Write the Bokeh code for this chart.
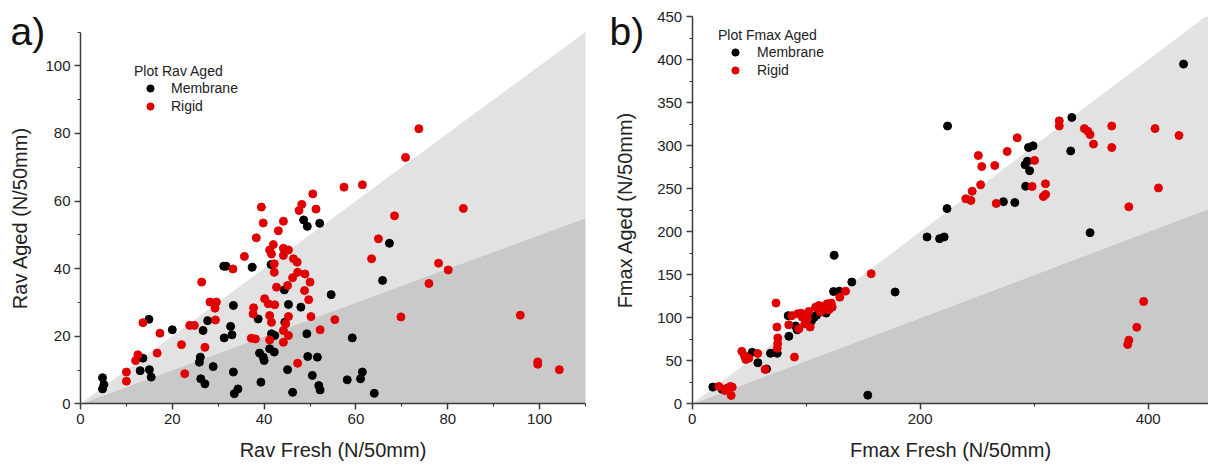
from bokeh.plotting import figure
from bokeh.models import FixedTicker, Legend, LegendItem, Label, Range1d
from bokeh.layouts import row
from bokeh.embed import file_html
from bokeh.resources import INLINE

# ---------------- data: panel a (Rav) ----------------
rav_fresh_membrane = [4.8, 5.1, 4.8, 13.0, 13.6, 14.9, 15.0, 15.4, 20.0, 26.1,
                      25.9, 26.2, 27.1, 26.7, 27.7, 28.9, 31.2, 31.7, 31.3, 32.7,
                      33.0, 33.3, 33.3, 33.5, 34.3, 48.6, 49.4, 52.1, 37.4, 41.5,
                      44.4, 54.6, 45.3, 48.0, 65.8, 67.3, 38.7, 44.5, 41.6, 42.3,
                      49.3, 59.2, 39.0, 39.8, 40.0, 41.2, 42.2, 49.5, 51.6, 45.1,
                      50.5, 58.1, 61.4, 61.0, 39.3, 51.9, 52.2, 46.2, 64.0]
rav_aged_membrane = [7.7, 5.7, 4.4, 9.8, 13.5, 25.0, 10.1, 7.9, 21.9, 13.8,
                     12.3, 7.4, 5.9, 21.7, 24.6, 11.0, 40.7, 40.7, 19.5, 22.9,
                     20.4, 29.1, 9.4, 3.0, 4.4, 54.4, 52.5, 53.4, 40.4, 41.2,
                     33.7, 32.3, 29.4, 28.6, 36.5, 47.5, 25.1, 24.1, 20.7, 20.2,
                     20.7, 19.5, 15.0, 13.8, 12.8, 16.3, 15.3, 14.0, 13.8, 10.1,
                     8.4, 7.1, 9.4, 7.4, 6.4, 5.4, 4.1, 3.4, 3.1]
rav_fresh_rigid = [10.0, 10.0, 12.0, 12.5, 13.6, 16.7, 17.3, 22.0, 22.7, 23.8,
                   24.8, 26.4, 27.1, 28.2, 29.6, 29.3, 29.4, 33.2, 35.7, 57.4,
                   61.4, 50.6, 39.4, 48.2, 47.6, 51.3, 39.8, 44.2, 43.1, 38.3,
                   42.0, 41.2, 41.6, 44.2, 45.3, 44.2, 46.4, 47.2, 42.2, 42.2,
                   47.3, 48.9, 46.2, 50.0, 42.7, 45.1, 48.8, 40.1, 49.7, 40.9,
                   42.3, 37.7, 64.9, 63.4, 37.6, 41.2, 41.6, 45.3, 50.2, 55.4,
                   44.7, 44.2, 45.3, 52.2, 37.2, 38.1, 41.2, 44.2, 47.3, 69.8,
                   75.9, 78.0, 80.1, 95.8, 99.6, 99.6, 104.3, 73.7, 70.8, 68.4,
                   83.4]
rav_aged_rigid = [9.4, 6.7, 12.8, 14.5, 24.0, 15.0, 20.9, 17.5, 8.9, 23.2,
                  23.2, 36.0, 16.7, 30.1, 30.1, 28.3, 24.8, 39.9, 43.6, 64.1,
                  64.8, 62.1, 58.2, 59.0, 57.2, 57.6, 53.5, 54.0, 51.2, 49.1,
                  47.1, 45.5, 44.3, 46.0, 45.5, 43.9, 42.9, 41.9, 41.4, 38.9,
                  38.9, 38.4, 37.3, 36.0, 34.5, 35.0, 33.5, 31.1, 30.8, 29.6,
                  29.3, 28.4, 48.8, 42.9, 26.6, 26.1, 24.1, 25.8, 25.8, 24.9,
                  23.7, 21.7, 20.2, 21.9, 19.4, 19.2, 18.9, 18.2, 12.0, 25.7,
                  35.6, 41.6, 39.6, 26.2, 12.4, 11.7, 10.1, 81.4, 72.9, 55.6,
                  57.8]

# ---------------- data: panel b (Fmax) ----------------
fmax_fresh_membrane = [18.1, 26.3, 52.6, 57.6, 65.2, 68.7, 74.6, 84.2, 84.8, 90.6,
                       92.1, 104.5, 107.0, 109.1, 117.5, 124.5, 124.0, 129.0, 140.0, 154.0,
                       178.0, 206.0, 217.0, 221.0, 223.5, 224.0, 273.0, 283.0, 292.5, 292.0,
                       294.0, 296.0, 295.0, 299.0, 333.0, 332.0, 349.0, 431.0]
fmax_aged_membrane = [19.4, 16.8, 59.8, 47.7, 40.5, 58.7, 58.7, 102.5, 78.5, 90.5,
                      86.0, 96.0, 100.5, 103.0, 105.5, 172.8, 130.5, 131.0, 141.6, 10.0,
                      130.0, 194.0, 192.0, 194.0, 227.0, 323.0, 235.0, 234.0, 253.0, 278.0,
                      282.0, 271.0, 298.0, 300.0, 333.0, 294.0, 199.0, 395.0]
fmax_fresh_rigid = [23.4, 28.7, 30.7, 33.6, 35.1, 34.2, 43.5, 45.8, 47.0, 49.7,
                    57.5, 64.0, 73.5, 74.3, 75.1, 75.0, 74.6, 89.7, 84.7, 87.5,
                    92.5, 95.5, 96.5, 93.6, 98.8, 101.0, 103.5, 102.3, 108.2, 111.1,
                    114.0, 118.4, 121.9, 122.8, 119.9, 112.6, 129.5, 134.5, 157.0, 240.0,
                    244.5, 245.6, 251.0, 254.0, 265.4, 253.0, 266.7, 276.3, 285.1, 300.3,
                    298.2, 309.9, 308.0, 310.0, 322.0, 322.0, 344.0, 347.0, 349.0, 352.0,
                    368.0, 368.0, 406.0, 427.0, 409.0, 383.0, 382.0, 383.0, 390.0, 396.0]
fmax_aged_rigid = [20.2, 15.5, 18.2, 20.2, 19.4, 9.7, 61.0, 56.0, 51.5, 53.0,
                   58.5, 40.0, 117.2, 89.2, 76.6, 70.0, 64.5, 54.3, 91.8, 102.5,
                   104.7, 105.4, 100.8, 87.2, 93.0, 98.8, 89.2, 107.4, 112.4, 114.3,
                   113.2, 116.3, 117.1, 112.4, 109.3, 106.6, 124.0, 131.0, 151.3, 238.4,
                   236.4, 247.2, 288.7, 275.9, 277.1, 254.7, 233.0, 293.4, 309.3, 283.0,
                   252.7, 255.8, 241.0, 243.5, 329.0, 323.0, 320.0, 317.0, 313.0, 302.0,
                   323.0, 298.0, 320.0, 312.0, 251.0, 229.0, 69.0, 74.0, 89.0, 119.0]

# ticks
rav_ticks = [0, 20, 40, 60, 80, 100]
rav_minor = [10, 30, 50, 70, 90, 110]
fmax_x_ticks = [0, 200, 400]
fmax_x_minor = [100, 300]
fmax_y_ticks = [0, 50, 100, 150, 200, 250, 300, 350, 400, 450]
fmax_y_minor = [25, 75, 125, 175, 225, 275, 325, 375, 425]

# axis extents
rav_max = 110
fmax_y_max = 450

# reference ratio lines (aged / fresh) bounding the shaded zones
UPPER_RATIO = 1.0
LOWER_RATIO = 0.5

FONT = "Liberation Sans"
LIGHT = "#e2e2e2"
DARK = "#c9c9c9"
RED = "#e00000"
BLACK = "#000000"
AXIS = "#3c3c3c"
TEXT = "#222222"
H = 468


def make_panel(width, xr, yr, xbounds, ybounds, xt, xm, yt, ym, xlabel, ylabel, ylabel_standoff):
    p = figure(width=width, height=H, x_range=Range1d(*xr), y_range=Range1d(*yr),
               output_backend="svg", toolbar_location=None, title=None,
               min_border=0, min_border_left=0, min_border_right=0,
               min_border_top=0, min_border_bottom=0)
    p.xgrid.visible = False
    p.ygrid.visible = False
    p.outline_line_color = None
    p.xaxis.fixed_location = 0
    p.yaxis.fixed_location = 0
    p.xaxis.bounds = xbounds
    p.yaxis.bounds = ybounds
    p.xaxis.ticker = FixedTicker(ticks=xt, minor_ticks=xm)
    p.yaxis.ticker = FixedTicker(ticks=yt, minor_ticks=ym)
    p.xaxis.axis_label = xlabel
    p.yaxis.axis_label = ylabel
    for ax in (p.xaxis[0], p.yaxis[0]):
        ax.axis_line_color = AXIS
        ax.axis_line_width = 1.5
        ax.major_tick_line_color = AXIS
        ax.major_tick_line_width = 1.5
        ax.major_tick_out = 6
        ax.major_tick_in = 0
        ax.minor_tick_line_color = AXIS
        ax.minor_tick_line_width = 1.2
        ax.minor_tick_out = 3
        ax.minor_tick_in = 0
        ax.major_label_text_font = FONT
        ax.major_label_text_font_size = "15px"
        ax.major_label_text_color = TEXT
        ax.major_label_standoff = 4
        ax.axis_label_text_font = FONT
        ax.axis_label_text_font_size = "20px"
        ax.axis_label_text_font_style = "normal"
        ax.axis_label_text_color = TEXT
    p.xaxis.axis_label_standoff = 12
    p.yaxis.axis_label_standoff = ylabel_standoff
    return p


def shade(p, xs, lower, upper):
    p.varea(x=xs, y1=[0] * len(xs), y2=lower, fill_color=DARK)
    p.varea(x=xs, y1=lower, y2=upper, fill_color=LIGHT)


def add_points(p, xb, yb, xr, yr, title, loc, gw):
    rb = p.scatter(xb, yb, size=8, fill_color=BLACK, line_color=BLACK)
    rr = p.scatter(xr, yr, size=8, fill_color=RED, line_color=RED)
    leg = Legend(items=[LegendItem(label="Membrane", renderers=[rb]),
                        LegendItem(label="Rigid", renderers=[rr])],
                 title=title, location=loc)
    leg.border_line_color = None
    leg.background_fill_alpha = 0
    leg.padding = 0
    leg.margin = 0
    leg.spacing = 0
    leg.label_height = 18
    leg.glyph_height = 18
    leg.glyph_width = gw
    leg.label_standoff = 5
    leg.title_standoff = 0
    leg.title_text_font = FONT
    leg.title_text_font_size = "14px"
    leg.title_text_font_style = "normal"
    leg.title_text_color = TEXT
    leg.label_text_font = FONT
    leg.label_text_font_size = "14px"
    leg.label_text_color = TEXT
    p.add_layout(leg)


# panel a: x=0 at px 80, x=110 at px 585; y=0 at px 403, y=110 at px 31.5
sxa = (585 - 80) / rav_max
sya = (403.3 - 31.5) / rav_max
pa = make_panel(608, (-80 / sxa, (608 - 80) / sxa), (-(H - 403.3) / sya, 403.3 / sya),
                (0, rav_max), (0, rav_max), rav_ticks, rav_minor, rav_ticks, rav_minor,
                "Rav Fresh (N/50mm)", "Rav Aged (N/50mm)", 11)
shade(pa, [0, rav_max], [0, LOWER_RATIO * rav_max], [0, UPPER_RATIO * rav_max])
add_points(pa, rav_fresh_membrane, rav_aged_membrane, rav_fresh_rigid, rav_aged_rigid,
           "Plot Rav Aged", (134, H - 115), 32)
pa.add_layout(Label(x=-70 / sxa, y=(403.3 - 31) / sya, text="a)", text_font=FONT,
                    text_font_size="39px", text_baseline="middle", text_color="#111111"))

# panel b: x=0 at px 691.7 (page), 1.14 px per unit; y=0 at 403.3, 0.86 px per unit
sxb = 1.14
syb = (403.3 - 16.3) / fmax_y_max
xb_end = (1208 - 691.7) / sxb
pb = make_panel(600, (-(691.7 - 608) / sxb, xb_end), (-(H - 403.3) / syb, 403.3 / syb),
                (0, xb_end), (0, fmax_y_max), fmax_x_ticks, fmax_x_minor, fmax_y_ticks, fmax_y_minor,
                "Fmax Fresh (N/50mm)", "Fmax Aged (N/50mm)", 18)
shade(pb, [0, fmax_y_max / UPPER_RATIO, xb_end],
      [0, LOWER_RATIO * fmax_y_max / UPPER_RATIO, LOWER_RATIO * xb_end],
      [0, fmax_y_max, fmax_y_max])
add_points(pb, fmax_fresh_membrane, fmax_aged_membrane, fmax_fresh_rigid, fmax_aged_rigid,
           "Plot Fmax Aged", (110, H - 79), 34)
pb.add_layout(Label(x=-(691.7 - 609) / sxb, y=(403.3 - 31) / syb, text="b)", text_font=FONT,
                    text_font_size="39px", text_baseline="middle", text_color="#111111"))

layout = row(pa, pb)
open("out.html", "w").write(file_html(layout, INLINE))
